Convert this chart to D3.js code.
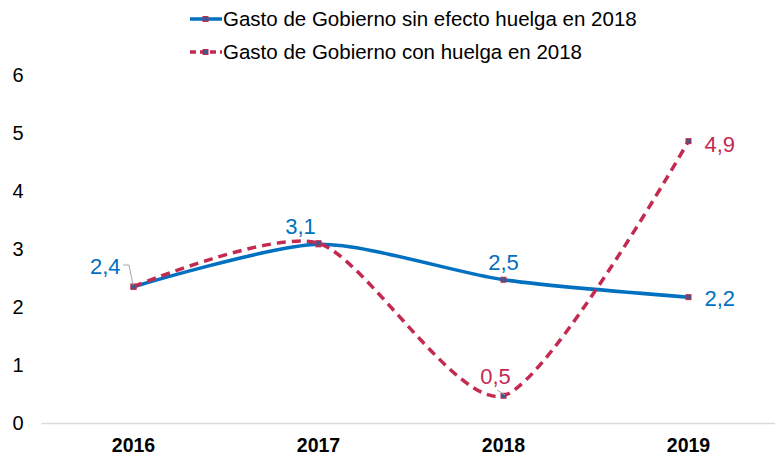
<!DOCTYPE html>
<html>
<head>
<meta charset="utf-8">
<script src="https://cdn.jsdelivr.net/npm/d3@7"></script>
<style>
  body { margin: 0; background: #fff; }
  text { font-family: "Liberation Sans", Arial, sans-serif; }
</style>
</head>
<body>
<div id="chart"></div>
<script>
// data
var years = ["2016", "2017", "2018", "2019"];
var sinHuelga = [2.35, 3.08, 2.47, 2.17];
var conHuelga = [2.35, 3.1, 0.47, 4.86];
var sinLabels = ["2,4", "3,1", "2,5", "2,2"];
var conLabels = ["", "", "0,5", "4,9"];
var seriesNames = ["Gasto de Gobierno sin efecto huelga en 2018", "Gasto de Gobierno con huelga en 2018"];
var yTicks = [0, 1, 2, 3, 4, 5, 6];

var width = 775, height = 460;
var blue = "#0070C0", red = "#C42A50";

var svg = d3.select("#chart").append("svg")
    .attr("width", width)
    .attr("height", height);

var x = d3.scaleBand().domain(years).range([41, 781]);
var y = d3.scaleLinear().domain([0, 6]).range([423, 75]);

// y labels (no axis line)
svg.append("g").selectAll("text")
    .data(yTicks).enter().append("text")
    .attr("x", 18)
    .attr("y", function(d) { return y(d); })
    .attr("dy", "0.35em")
    .attr("text-anchor", "middle")
    .style("font-size", "20px")
    .style("fill", "#000")
    .text(function(d) { return d; });

// x axis
var xAxis = svg.append("g")
    .attr("transform", "translate(0," + y(0) + ")")
    .call(d3.axisBottom(x).tickSize(0).tickPadding(15));
xAxis.select(".domain").attr("stroke", "#d9d9d9").attr("stroke-width", 1.5);
xAxis.selectAll("text")
    .style("font-size", "19.5px")
    .style("font-weight", "bold")
    .style("font-family", "Liberation Sans, Arial, sans-serif")
    .style("fill", "#000");

function cx(i) { return x(years[i]) + x.bandwidth() / 2; }

var line = d3.line()
    .x(function(d, i) { return cx(i); })
    .y(function(d) { return y(d); })
    .curve(d3.curveCardinal.tension(0.25));

svg.append("path")
    .datum(sinHuelga)
    .attr("d", line)
    .attr("fill", "none")
    .attr("stroke", blue)
    .attr("stroke-width", 3.5);

svg.append("path")
    .datum(conHuelga)
    .attr("d", line)
    .attr("fill", "none")
    .attr("stroke", red)
    .attr("stroke-width", 3.5)
    .attr("stroke-dasharray", "9,6");

// markers
function markers(data, stroke) {
  svg.append("g").selectAll("rect")
    .data(data).enter().append("rect")
    .attr("x", function(d, i) { return cx(i) - 2.5; })
    .attr("y", function(d) { return y(d) - 2.5; })
    .attr("width", 5).attr("height", 5)
    .attr("fill", "#3b5b8c")
    .attr("stroke", stroke)
    .attr("stroke-width", 1);
}
markers(sinHuelga, red);
markers(conHuelga, red);

// leader lines
svg.append("path")
    .attr("d", "M123,265 L129,265 L133,285")
    .attr("fill", "none").attr("stroke", "#a6a6a6").attr("stroke-width", 1);
svg.append("path")
    .attr("d", "M497,390 L505,395")
    .attr("fill", "none").attr("stroke", "#a6a6a6").attr("stroke-width", 1);

// data labels
var labelPos = [
  {dx: -13, dy: -20, anchor: "end"},
  {dx: -18, dy: -18, anchor: "middle"},
  {dx: 0, dy: -17, anchor: "middle"},
  {dx: 16, dy: 1, anchor: "start"}
];
svg.append("g").selectAll("text")
    .data(sinHuelga).enter().append("text")
    .attr("x", function(d, i) { return cx(i) + labelPos[i].dx; })
    .attr("y", function(d, i) { return y(d) + labelPos[i].dy; })
    .attr("dy", "0.35em")
    .attr("text-anchor", function(d, i) { return labelPos[i].anchor; })
    .style("font-size", "22px")
    .style("fill", blue)
    .text(function(d, i) { return sinLabels[i]; });

var conPos = [null, null, {dx: -8, dy: -19, anchor: "middle"}, {dx: 16, dy: 3, anchor: "start"}];
svg.append("g").selectAll("text")
    .data(conHuelga).enter().append("text")
    .filter(function(d, i) { return conLabels[i] !== ""; })
    .attr("x", function(d) { var i = conHuelga.indexOf(d); return cx(i) + conPos[i].dx; })
    .attr("y", function(d) { var i = conHuelga.indexOf(d); return y(d) + conPos[i].dy; })
    .attr("dy", "0.35em")
    .attr("text-anchor", function(d) { return conPos[conHuelga.indexOf(d)].anchor; })
    .style("font-size", "22px")
    .style("fill", red)
    .text(function(d) { return conLabels[conHuelga.indexOf(d)]; });

// legend
var legend = svg.append("g");
var legendY = [19, 52];
seriesNames.forEach(function(name, i) {
  var g = legend.append("g").attr("transform", "translate(190," + legendY[i] + ")");
  g.append("line")
    .attr("x1", 0).attr("x2", 32).attr("y1", 0).attr("y2", 0)
    .attr("stroke", i === 0 ? blue : red)
    .attr("stroke-width", 3.5)
    .attr("stroke-dasharray", i === 0 ? null : "6,4");
  g.append("rect")
    .attr("x", 13).attr("y", -2.5).attr("width", 5).attr("height", 5)
    .attr("fill", "#3b5b8c").attr("stroke", red).attr("stroke-width", 1);
  g.append("text")
    .attr("x", 33).attr("y", 0).attr("dy", "0.35em")
    .style("font-size", "20.5px")
    .style("fill", "#000")
    .text(name);
});
</script>
</body>
</html>
